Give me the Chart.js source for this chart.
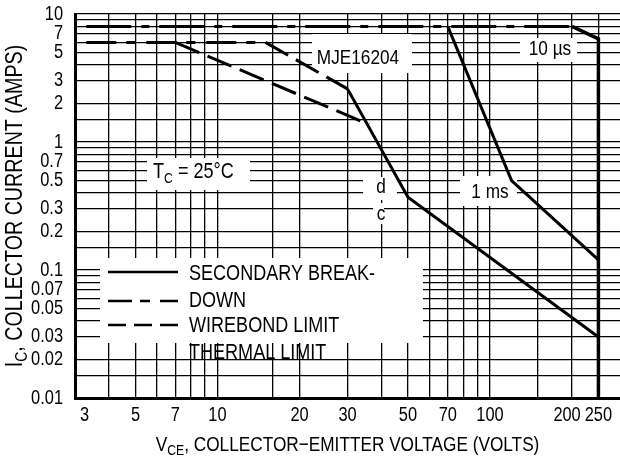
<!DOCTYPE html>
<html>
<head>
<meta charset="utf-8">
<script src="https://cdn.jsdelivr.net/npm/chart.js@4.4.1/dist/chart.umd.min.js"></script>
<style>
  html, body { margin: 0; padding: 0; background: #fff; }
</style>
</head>
<body>
<canvas id="soa" width="620" height="461"></canvas>
<script>
// grid lines of the log paper, and the ones that carry a label
const xGrid = [3, 4, 5, 6, 7, 8, 9, 10, 16, 20, 30, 40, 50, 60, 70, 80, 90, 100, 150, 200, 250]
const xLabels = [3, 5, 7, 10, 20, 30, 50, 70, 100, 200, 250]
const yGrid = [0.01, 0.015, 0.02, 0.03, 0.04, 0.05, 0.06, 0.07, 0.08, 0.09,
               0.1, 0.15, 0.2, 0.3, 0.4, 0.5, 0.6, 0.7, 0.8, 0.9,
               1, 1.5, 2, 3, 4, 5, 6, 7, 8, 9, 10]
const yLabels = [0.01, 0.02, 0.03, 0.05, 0.07, 0.1, 0.2, 0.3, 0.5, 0.7, 1, 2, 3, 5, 7, 10]

// curves, [VCE volts, IC amps]
const wirebondPulse = [[3.3, 8], [200, 8]]
const wirebondDC = [[3.3, 6], [15, 6]]
const thermalDC = [[15, 6], [30, 2.6]]
const thermalDC2 = [[7, 6], [36, 1.37]]
const breakdownDC = [[30, 2.6], [50, 0.37], [250, 0.03]]
const pulse10us = [[200, 8], [250, 6.4], [250, 0.01]]
const pulse1ms = [[70, 8], [120, 0.5], [250, 0.12]]

// no narrow face installed: squeeze Liberation Sans like Helvetica Narrow
const FONT = "'Liberation Sans', Arial, sans-serif"
const SX = 0.82
const pts = a => a.map(p => ({ x: p[0], y: p[1] }))

function line(data, dash, width) {
    return {
        data: pts(data),
        borderColor: '#000',
        borderWidth: width || 3,
        borderDash: dash || [],
        pointRadius: 0,
        fill: false,
        tension: 0,
    }
}

function textWidth(ctx, s, size) {
    ctx.font = size + 'px ' + FONT
    return ctx.measureText(s).width * SX
}

function text(ctx, s, x, y, size, align) {
    ctx.save()
    ctx.translate(x, y)
    ctx.scale(SX, 1)
    ctx.font = size + 'px ' + FONT
    ctx.textAlign = align || 'left'
    ctx.textBaseline = 'middle'
    ctx.fillText(s, 0, 0)
    ctx.restore()
}

// text with subscripts, parts = [[text, isSub], ...]
function richText(ctx, parts, x, y, size, align) {
    const sub = Math.round(size * 0.7)
    let w = 0
    parts.forEach(p => { w += textWidth(ctx, p[0], p[1] ? sub : size) })
    let cx = align === 'center' ? x - w / 2 : x
    parts.forEach(p => {
        const sz = p[1] ? sub : size
        text(ctx, p[0], cx, p[1] ? y + size * 0.3 : y, sz, 'left')
        cx += textWidth(ctx, p[0], sz)
    })
}

const labelBoxes = [
    // x1, y1, x2, y2, text, cx, cy
    [312, 34, 412, 73, 'MJE16204', 358, 58],
    [520, 38, 577, 62, '10 µs', 550, 49],
    [460, 176, 517, 206, '1 ms', 490, 192],
    [363, 177, 397, 200, 'd', 381, 187],
    [373, 203, 384, 224, 'c', 381, 214],
]

const notes = {
    id: 'notes',
    beforeDatasetsDraw(chart) {
        const ctx = chart.ctx
        ctx.save()
        ctx.fillStyle = '#fff'
        labelBoxes.forEach(b => ctx.fillRect(b[0], b[1], b[2] - b[0], b[3] - b[1]))
        ctx.fillRect(147, 158, 103, 32)
        ctx.fillRect(100, 258, 323, 85)
        ctx.fillStyle = '#000'
        labelBoxes.forEach(b => text(ctx, b[4], b[5], b[6], 21, 'center'))
        richText(ctx, [['T', false], ['C', true], [' = 25°C', false]], 153, 172, 22, 'left')

        // legend
        ctx.strokeStyle = '#000'
        ctx.lineWidth = 2.5
        const keys = [[272, []], [301, [24, 8, 10, 10]], [325, [18, 8]]]
        keys.forEach(k => {
            ctx.setLineDash(k[1])
            ctx.beginPath()
            ctx.moveTo(108, k[0])
            ctx.lineTo(178, k[0])
            ctx.stroke()
        })
        ctx.setLineDash([])
        text(ctx, 'SECONDARY BREAK-', 189, 274, 22)
        text(ctx, 'DOWN', 189, 301, 22)
        text(ctx, 'WIREBOND LIMIT', 189, 326, 22)
        text(ctx, 'THERMAL LIMIT', 189, 353, 22)
        ctx.restore()
    },
    afterDraw(chart) {
        const ctx = chart.ctx
        const a = chart.chartArea
        const xs = chart.scales.x
        const ys = chart.scales.y
        ctx.save()
        ctx.fillStyle = '#000'
        // tick labels, placed by the chart's own scales
        yLabels.forEach(v => text(ctx, String(v), a.left - 12, ys.getPixelForValue(v), 20, 'right'))
        // x labels: keep inside the axis and push crowded ones apart, right to left
        let limit = Infinity
        xLabels.slice().reverse().forEach(v => {
            const s = String(v)
            const w = textWidth(ctx, s, 20)
            let px = Math.max(xs.getPixelForValue(v), a.left + 5 + w / 2)
            px = Math.min(px, limit - 4 - w / 2)
            text(ctx, s, px, a.bottom + 17, 20, 'center')
            limit = px - w / 2
        })
        richText(ctx, [['V', false], ['CE', true], [', COLLECTOR\u2212EMITTER VOLTAGE (VOLTS)', false]],
            (a.left + a.right) / 2, 445, 21, 'center')
        ctx.translate(15, (a.top + a.bottom) / 2)
        ctx.rotate(-Math.PI / 2)
        richText(ctx, [['I', false], ['C', true], [', COLLECTOR CURRENT (AMPS)', false]], 0, 0, 24, 'center')
        ctx.restore()
    }
}

const ctx = document.getElementById('soa').getContext('2d')
new Chart(ctx, {
    type: 'line',
    data: {
        datasets: [
            line(wirebondPulse, [45, 10, 8, 10]),
            line(wirebondDC, [30, 10, 9, 11]),
            line(thermalDC, [26, 9]),
            line(thermalDC2, [26, 9]),
            line(breakdownDC),
            line(pulse10us, [], 3.5),
            line(pulse1ms),
        ],
    },
    options: {
        responsive: false,
        animation: false,
        devicePixelRatio: 1,
        layout: { padding: { top: 14, left: 0, right: 0, bottom: 0 } },
        plugins: {
            legend: { display: false },
            tooltip: { enabled: false },
        },
        scales: {
            x: {
                type: 'logarithmic',
                min: 3,
                max: 300,
                afterBuildTicks: s => { s.ticks = xGrid.map(v => ({ value: v })) },
                afterFit: s => { s.height = 63; s.paddingLeft = 0; s.paddingRight = 0 },
                grid: { color: '#000', lineWidth: 1.3, drawTicks: false },
                border: { color: '#000', width: 3 },
                ticks: { display: false },
            },
            y: {
                type: 'logarithmic',
                min: 0.01,
                max: 10,
                afterBuildTicks: s => { s.ticks = yGrid.map(v => ({ value: v })) },
                afterFit: s => { s.width = 75; s.paddingTop = 0; s.paddingBottom = 0 },
                grid: { color: '#000', lineWidth: 1.3, drawTicks: false },
                border: { color: '#000', width: 3 },
                ticks: { display: false },
            },
        },
    },
    plugins: [notes],
})
</script>
</body>
</html>
